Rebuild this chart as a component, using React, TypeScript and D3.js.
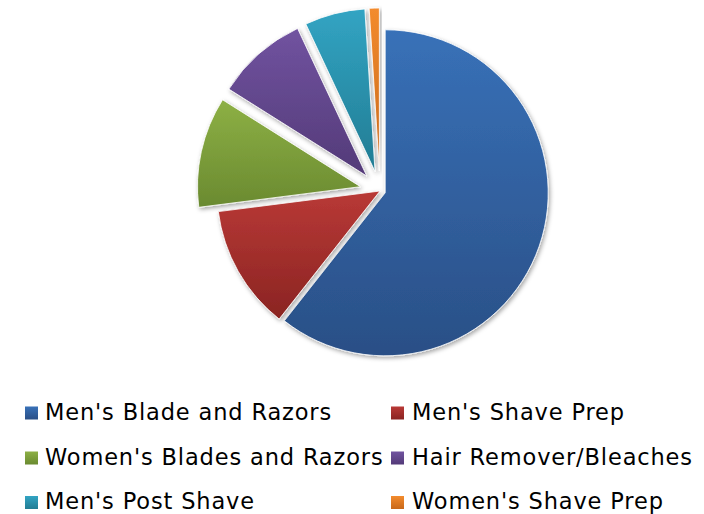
import React from "react";
import * as d3 from "d3";

const categories = [
  "Men's Blade and Razors",
  "Men's Shave Prep",
  "Women's Blades and Razors",
  "Hair Remover/Bleaches",
  "Men's Post Shave",
  "Women's Shave Prep",
];
const values = [60.8, 12.4, 11.0, 9.1, 6.0, 1.0];

const topColors = ["#3871B8", "#B93936", "#8DB045", "#7153A0", "#32A4C3", "#F38B2D"];
const bottomColors = ["#2A4F86", "#8A2422", "#6A8A30", "#533A78", "#227C93", "#C8681A"];
const explode = [5.5, 0, 20, 20, 20, 20];

const W = 704;
const H = 514;
const CX = 380;
const CY = 191;
const R = 163;

export default function App() {
  const pie = d3.pie<number>().sort(null).value((d) => d)(values);
  const arc = d3.arc<d3.PieArcDatum<number>>().innerRadius(0).outerRadius(R);
  const legendCols = [25, 391];
  const legendRows = [419.5, 464.5, 509];
  return (
    <svg
      width={W}
      height={H}
      style={{ position: "absolute", left: 0, top: 0 }}
      fontFamily="'DejaVu Sans', Verdana, sans-serif"
    >
      <defs>
        {categories.map((c, i) => (
          <linearGradient key={c} id={`g${i}`} x1="0" y1="0" x2="0" y2="1">
            <stop offset="0%" stopColor={topColors[i]} />
            <stop offset="100%" stopColor={bottomColors[i]} />
          </linearGradient>
        ))}
        <filter id="sh" x="-20%" y="-20%" width="140%" height="140%">
          <feDropShadow dx="1.5" dy="2" stdDeviation="2" floodColor="#000" floodOpacity="0.35" />
        </filter>
      </defs>
      <rect width={W} height={H} fill="#fff" />
      <g transform={`translate(${CX},${CY})`}>
        {pie.map((p, i) => {
          const mid = (p.startAngle + p.endAngle) / 2;
          const dx = Math.sin(mid) * explode[i];
          const dy = -Math.cos(mid) * explode[i];
          return (
            <path
              key={i}
              d={arc(p) || ""}
              transform={`translate(${dx},${dy})`}
              fill={`url(#g${i})`}
              stroke="#fff"
              strokeWidth={0.8}
              filter="url(#sh)"
            />
          );
        })}
      </g>
      {categories.map((c, i) => {
        const col = i % 2;
        const row = Math.floor(i / 2);
        const x = legendCols[col];
        const y = legendRows[row];
        return (
          <g key={c}>
            <rect x={x} y={y - 13} width={13} height={13} fill={`url(#g${i})`} />
            <text
              x={x + (col === 0 ? 20 : 21)}
              y={y}
              fontSize={22.5}
              letterSpacing={0.85}
              fill="#000"
            >
              {c}
            </text>
          </g>
        );
      })}
    </svg>
  );
}
